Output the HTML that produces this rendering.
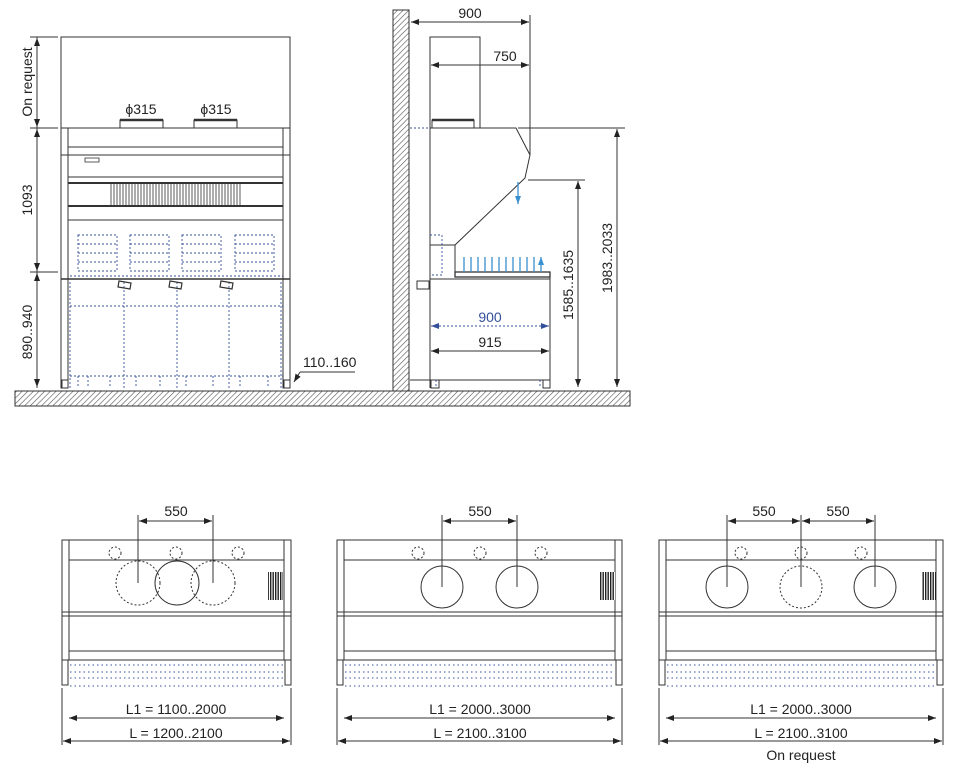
<!DOCTYPE html>
<html><head><meta charset="utf-8"><style>
html,body{margin:0;padding:0;background:#fff}
svg{display:block}
text{font-family:"Liberation Sans",sans-serif;font-size:14px;fill:#222}
</style></head><body>
<svg width="957" height="768" viewBox="0 0 957 768" xmlns="http://www.w3.org/2000/svg">
<defs>
<pattern id="h" width="4" height="4" patternUnits="userSpaceOnUse" patternTransform="rotate(45)">
<rect width="4" height="4" fill="#fff"/><line x1="0" y1="0" x2="0" y2="4" stroke="#555" stroke-width="1.2"/></pattern>
<pattern id="bc" width="2.5" height="4" patternUnits="userSpaceOnUse">
<rect width="2.5" height="4" fill="#fff"/><rect width="1.4" height="4" fill="#222"/></pattern>
<marker id="a" markerWidth="8" markerHeight="6" refX="8" refY="3" orient="auto-start-reverse" markerUnits="userSpaceOnUse"><path d="M0,0 L8,3 L0,6 z" fill="#222"/></marker>
<marker id="b" markerWidth="8" markerHeight="6" refX="8" refY="3" orient="auto-start-reverse" markerUnits="userSpaceOnUse"><path d="M0,0 L8,3 L0,6 z" fill="#3a8fd0"/></marker>
<marker id="bd" markerWidth="8" markerHeight="6" refX="8" refY="3" orient="auto-start-reverse" markerUnits="userSpaceOnUse"><path d="M0,0 L8,3 L0,6 z" fill="#34509a"/></marker>
</defs>
<g fill="none" stroke="#333" stroke-width="1">
<rect x="15" y="391" width="615" height="15" fill="url(#h)"/>
<rect x="393" y="10" width="16" height="381" fill="url(#h)"/>

<!-- FRONT VIEW -->
<rect x="61" y="37" width="229" height="91"/>
<rect x="120" y="120" width="43" height="8"/><line x1="120" y1="120" x2="163" y2="120" stroke-width="2.5"/>
<rect x="194" y="120" width="43" height="8"/><line x1="194" y1="120" x2="237" y2="120" stroke-width="2.5"/>
<line x1="61" y1="128" x2="290" y2="128"/>
<rect x="61" y="128" width="7" height="260"/><rect x="283" y="128" width="7" height="260"/>
<line x1="68" y1="147" x2="283" y2="147"/><line x1="61" y1="155" x2="290" y2="155"/>
<line x1="68" y1="177" x2="283" y2="177"/><line x1="68" y1="183" x2="283" y2="183" stroke-width="2"/>
<line x1="68" y1="206" x2="283" y2="206" stroke-width="2"/><line x1="68" y1="220" x2="283" y2="220"/>
<rect x="85" y="158" width="14" height="4" stroke-width="0.8"/>
<path d="M111,184 V205 M114,184 V205 M117,184 V205 M120,184 V205 M123,184 V205 M126,184 V205 M129,184 V205 M132,184 V205 M135,184 V205 M138,184 V205 M141,184 V205 M144,184 V205 M147,184 V205 M150,184 V205 M153,184 V205 M156,184 V205 M159,184 V205 M162,184 V205 M165,184 V205 M168,184 V205 M171,184 V205 M174,184 V205 M177,184 V205 M180,184 V205 M183,184 V205 M186,184 V205 M189,184 V205 M192,184 V205 M195,184 V205 M198,184 V205 M201,184 V205 M204,184 V205 M207,184 V205 M210,184 V205 M213,184 V205 M216,184 V205 M219,184 V205 M222,184 V205 M225,184 V205 M228,184 V205 M231,184 V205 M234,184 V205 M237,184 V205 M240,184 V205" stroke-width="0.8"/>
<line x1="61" y1="279" x2="290" y2="279" stroke-width="1.5"/>
<g stroke="#34509a" stroke-dasharray="2,2" stroke-width="0.9">
<rect x="78" y="235" width="39" height="36"/><rect x="130" y="235" width="39" height="36"/><rect x="182" y="235" width="39" height="36"/><rect x="235" y="235" width="39" height="36"/>
<path d="M78,244H117M78,253H117M78,262H117M130,244H169M130,253H169M130,262H169M182,244H221M182,253H221M182,262H221M235,244H274M235,253H274M235,262H274"/>
<path d="M70,276H283M70,306H283M70,282V388M124,282V388M177,282V388M229,282V388M281,282V388M70,376H283"/>
<path d="M78,376V388M88,376V388M110,376V388M136,376V388M160,376V388M186,376V388M213,376V388M240,376V388M268,376V388"/>
</g>
<path d="M119,281l12,2-1,6-12-2z M170,281l12,2-1,6-12-2z M221,281l12,2-1,6-12-2z" stroke-width="1.2"/>
<rect x="62" y="380" width="6" height="8"/><rect x="284" y="380" width="6" height="8"/>
<line x1="37" y1="37" x2="37" y2="388"/>
<line x1="30" y1="37" x2="58" y2="37"/><line x1="30" y1="128" x2="58" y2="128"/><line x1="30" y1="272" x2="58" y2="272"/>
<path d="M37,38 V127" marker-start="url(#a)" marker-end="url(#a)"/>
<path d="M37,129 V271" marker-start="url(#a)" marker-end="url(#a)"/>
<path d="M37,273 V387" marker-start="url(#a)" marker-end="url(#a)"/>
<path d="M300,372 L294,382" marker-end="url(#a)"/><line x1="300" y1="372" x2="355" y2="372"/>

<!-- SIDE VIEW -->
<rect x="430" y="37" width="50" height="91"/>
<rect x="432" y="120" width="42" height="8"/><line x1="432" y1="120" x2="474" y2="120" stroke-width="2.5"/>
<line x1="430" y1="128" x2="430" y2="388"/>
<path d="M430,128 H516 L530,155 L525,178 L455,245 V277"/>
<line x1="430" y1="245" x2="455" y2="245"/>
<rect x="455" y="272" width="95" height="5" stroke-width="1.3"/>
<line x1="430" y1="279" x2="550" y2="279"/>
<line x1="550" y1="277" x2="550" y2="380"/>
<line x1="410" y1="380" x2="550" y2="380"/>
<rect x="431" y="380" width="8" height="8"/><rect x="543" y="380" width="7" height="8"/>
<rect x="417" y="281" width="12" height="8"/>
<g stroke="#34509a" stroke-dasharray="2,2" stroke-width="0.9"><path d="M430,235H442V275H430M410,128H430M436,380V388M540,380V388"/></g>
<line x1="530" y1="15" x2="530" y2="155"/>
<path d="M411,22 H529" marker-start="url(#a)" marker-end="url(#a)"/>
<path d="M431,65 H529" marker-start="url(#a)" marker-end="url(#a)"/>
<line x1="518" y1="128" x2="625" y2="128"/><line x1="528" y1="180" x2="585" y2="180"/>
<path d="M578,181 V387" marker-start="url(#a)" marker-end="url(#a)"/>
<path d="M617,129 V387" marker-start="url(#a)" marker-end="url(#a)"/>
<path d="M431,351 H549" marker-start="url(#a)" marker-end="url(#a)"/>
<path d="M431,326 H549" stroke="#34509a" stroke-dasharray="2,2" marker-start="url(#bd)" marker-end="url(#bd)"/>
<g stroke="#3a8fd0" stroke-width="1.3">
<path d="M518,182 V204" marker-end="url(#b)"/>
<path d="M464,272V257M471,272V257M478,272V257M485,272V257M492,272V257M499,272V257M506,272V257M513,272V257M520,272V257M527,272V257M534,272V257M541,272V257" marker-end="url(#b)"/>
</g>

<!-- PLAN VIEWS -->
<rect x="62" y="540" width="229" height="120"/>
<path d="M69,540V660M284,540V660M69,560H284M62,612H291M62,616H291M69,651H284"/>
<rect x="62" y="660" width="6" height="25"/><rect x="285" y="660" width="6" height="25"/>
<circle cx="177" cy="583" r="22"/>
<g stroke-dasharray="2,2"><circle cx="138" cy="583" r="22"/><circle cx="213" cy="583" r="22"/><circle cx="115" cy="553" r="6"/><circle cx="176" cy="553" r="6"/><circle cx="238" cy="553" r="6"/></g>
<path d="M138,583V515M213,583V515"/><path d="M139,521H212" marker-start="url(#a)" marker-end="url(#a)"/>
<rect x="268" y="572" width="15" height="28" fill="url(#bc)" stroke="none"/>
<g stroke="#34509a" stroke-dasharray="1.5,3" stroke-width="0.9"><path d="M70,665H284M70,672H284M70,678H284M70,686H284"/></g>
<path d="M62,688V745M291,688V745"/>
<path d="M69,718H284" marker-start="url(#a)" marker-end="url(#a)"/>
<path d="M63,741H290" marker-start="url(#a)" marker-end="url(#a)"/>

<rect x="337" y="540" width="285" height="120"/>
<path d="M344,540V660M615,540V660M344,560H615M337,612H622M337,616H622M344,651H615"/>
<rect x="337" y="660" width="6" height="25"/><rect x="616" y="660" width="6" height="25"/>
<circle cx="442" cy="587" r="21"/><circle cx="517" cy="587" r="21"/>
<g stroke-dasharray="2,2"><circle cx="418" cy="553" r="6"/><circle cx="480" cy="553" r="6"/><circle cx="541" cy="553" r="6"/></g>
<path d="M442,587V515M517,587V515"/><path d="M443,521H516" marker-start="url(#a)" marker-end="url(#a)"/>
<rect x="600" y="572" width="15" height="28" fill="url(#bc)" stroke="none"/>
<g stroke="#34509a" stroke-dasharray="1.5,3" stroke-width="0.9"><path d="M345,665H615M345,672H615M345,678H615M345,686H615"/></g>
<path d="M337,688V745M622,688V745"/>
<path d="M344,718H615" marker-start="url(#a)" marker-end="url(#a)"/>
<path d="M338,741H621" marker-start="url(#a)" marker-end="url(#a)"/>

<rect x="659" y="540" width="284" height="120"/>
<path d="M666,540V660M936,540V660M666,560H936M659,612H943M659,616H943M666,651H936"/>
<rect x="659" y="660" width="6" height="25"/><rect x="937" y="660" width="6" height="25"/>
<circle cx="727" cy="587" r="21"/><circle cx="875" cy="587" r="21"/>
<g stroke-dasharray="2,2"><circle cx="801" cy="587" r="21"/><circle cx="741" cy="553" r="6"/><circle cx="801" cy="553" r="6"/><circle cx="861" cy="553" r="6"/></g>
<path d="M727,587V515M801,587V515M875,587V515"/>
<path d="M728,521H800" marker-start="url(#a)" marker-end="url(#a)"/><path d="M802,521H874" marker-start="url(#a)" marker-end="url(#a)"/>
<rect x="922" y="572" width="15" height="28" fill="url(#bc)" stroke="none"/>
<g stroke="#34509a" stroke-dasharray="1.5,3" stroke-width="0.9"><path d="M667,665H936M667,672H936M667,678H936M667,686H936"/></g>
<path d="M659,688V745M943,688V745"/>
<path d="M666,718H936" marker-start="url(#a)" marker-end="url(#a)"/>
<path d="M660,741H942" marker-start="url(#a)" marker-end="url(#a)"/>
</g>
<text x="141" y="114" text-anchor="middle">ϕ315</text>
<text x="216" y="114" text-anchor="middle">ϕ315</text>
<text transform="translate(32,82) rotate(-90)" text-anchor="middle">On request</text>
<text transform="translate(32,200) rotate(-90)" text-anchor="middle">1093</text>
<text transform="translate(32,332) rotate(-90)" text-anchor="middle">890..940</text>
<text x="303" y="367">110..160</text>
<text x="470" y="18" text-anchor="middle">900</text>
<text x="505" y="61" text-anchor="middle">750</text>
<text x="490" y="322" text-anchor="middle" style="fill:#34509a">900</text>
<text x="490" y="347" text-anchor="middle">915</text>
<text transform="translate(573,285) rotate(-90)" text-anchor="middle">1585..1635</text>
<text transform="translate(612,258) rotate(-90)" text-anchor="middle">1983..2033</text>
<text x="176" y="516" text-anchor="middle">550</text>
<text x="480" y="516" text-anchor="middle">550</text>
<text x="764" y="516" text-anchor="middle">550</text>
<text x="838" y="516" text-anchor="middle">550</text>
<text x="176" y="714" text-anchor="middle">L1 = 1100..2000</text>
<text x="176" y="738" text-anchor="middle">L = 1200..2100</text>
<text x="480" y="714" text-anchor="middle">L1 = 2000..3000</text>
<text x="480" y="738" text-anchor="middle">L = 2100..3100</text>
<text x="801" y="714" text-anchor="middle">L1 = 2000..3000</text>
<text x="801" y="738" text-anchor="middle">L = 2100..3100</text>
<text x="801" y="760" text-anchor="middle">On request</text>
</svg>
</body></html>
